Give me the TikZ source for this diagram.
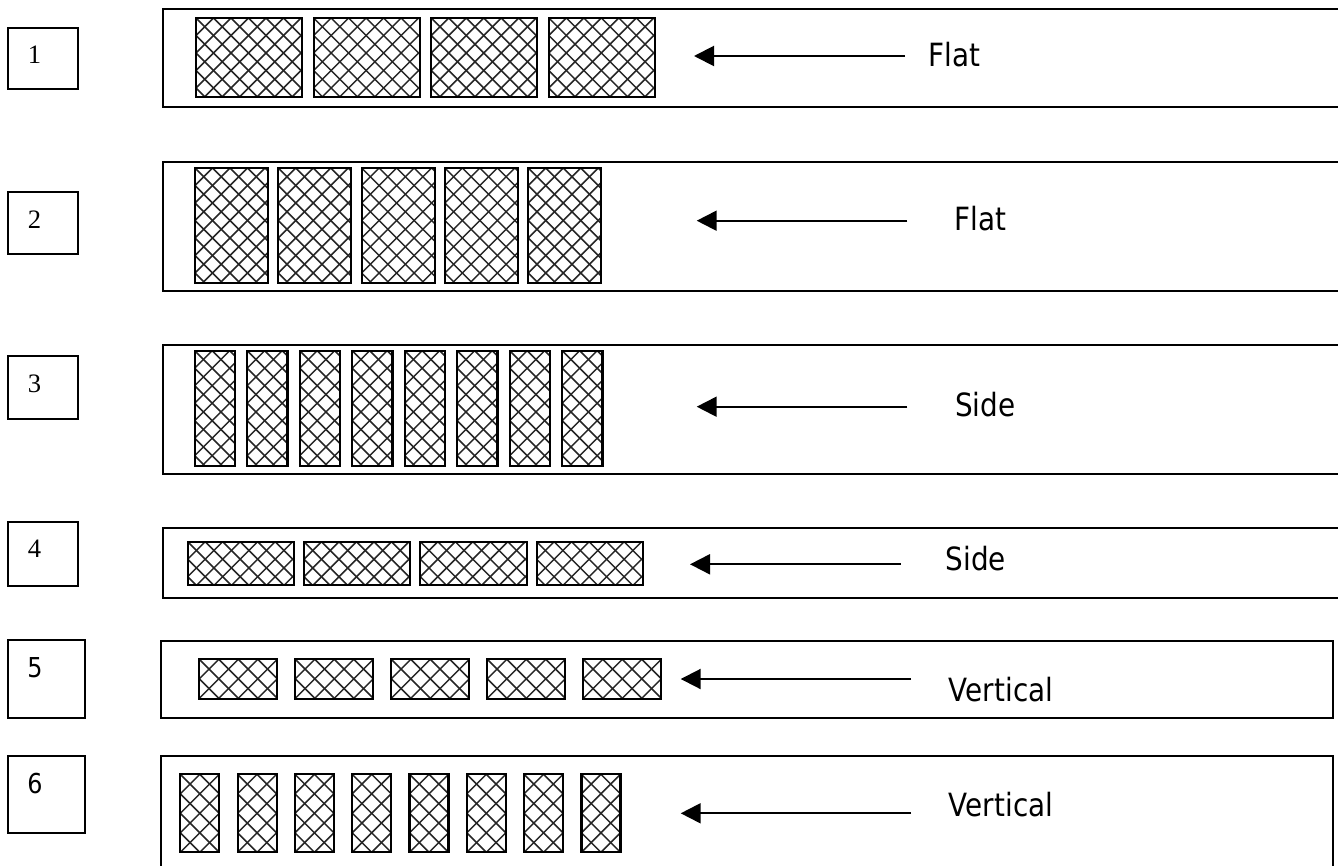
\documentclass[tikz,border=0pt]{standalone}
\usepackage{fontspec}
\setmainfont{Liberation Serif}
\newfontfamily\tah[FakeStretch=0.87]{DejaVu Sans}
\usetikzlibrary{arrows.meta}
\tikzset{
  frame/.style={draw=black, line width=1pt},
  tileline/.style={draw=black, line width=1.1pt},
  hatch/.style={draw=black!85, line width=0.75pt},
  arr/.style={draw=black, line width=1pt, -{Triangle[length=10pt,width=10pt]}},
  serifnum/.style={font=\fontsize{13.3}{15}\selectfont, anchor=base, inner sep=0pt},
  sansnum/.style={font=\tah\fontsize{13.7}{16}\selectfont, anchor=base, inner sep=0pt},
  lab/.style={font=\tah\fontsize{16}{18}\selectfont, anchor=base west, inner sep=0pt}
}
\newcommand\hatchtile[5]{%
  \begin{scope}
    \clip (#1,#2) rectangle ++(#3,#4);
    \foreach \k in {-8,...,16}{%
      \pgfmathsetmacro\sx{#1+\k*#5}%
      \draw[hatch] (\sx,#2) -- ++(#4,#4);
      \draw[hatch] (\sx,#2) -- ++(-#4,#4);
    }
  \end{scope}
  \draw[tileline] (#1,#2) rectangle ++(#3,#4);
}
\begin{document}
\begin{tikzpicture}[x=0.5pt,y=-0.5pt]
\useasboundingbox (0,0) rectangle (1338,866);
\fill[white] (0,0) rectangle (1338,866);

% number boxes
\draw[frame] (7.7,27.7) rectangle (78,89);
\node[serifnum] (n1) at (34.5,63.3) {1};
\draw[frame] (7.7,192) rectangle (78,254);
\node[serifnum] (n2) at (34.5,228.3) {2};
\draw[frame] (7.7,356) rectangle (78,419);
\node[serifnum] (n3) at (34.5,392.7) {3};
\draw[frame] (7.7,521.7) rectangle (78,586);
\node[serifnum] (n4) at (34.5,557.3) {4};
\draw[frame] (7.7,640) rectangle (85,717.7);
\node[sansnum] (n5) at (35,677.3) {5};
\draw[frame] (7.7,755.7) rectangle (85,832.7);
\node[sansnum] (n6) at (35,793.3) {6};

% strips
\draw[frame] (1345,9.3) -- (163,9.3) -- (163,107) -- (1345,107);
\draw[frame] (1345,162) -- (163,162) -- (163,291) -- (1345,291);
\draw[frame] (1345,345) -- (162.7,345) -- (162.7,474) -- (1345,474);
\draw[frame] (1345,528.3) -- (163,528.3) -- (163,598) -- (1345,598);
\draw[frame] (161.3,640.7) rectangle (1332.7,717.5);
\draw[frame] (161.3,870) -- (161.3,755.7) -- (1332.7,755.7) -- (1332.7,870);

% tiles
\foreach \i in {0,...,3}{\pgfmathsetmacro\tx{196+\i*117.6}\hatchtile{\tx}{18}{106}{79}{17.5}}
\foreach \i in {0,...,4}{\pgfmathsetmacro\tx{195+\i*83.3}\hatchtile{\tx}{168}{73}{115}{17.5}}
\foreach \i in {0,...,7}{\pgfmathsetmacro\tx{194.7+\i*52.5}\hatchtile{\tx}{350.7}{40.3}{115.3}{17.5}}
\foreach \i in {0,...,3}{\pgfmathsetmacro\tx{187.7+\i*116.3}\hatchtile{\tx}{541.7}{106.3}{43.3}{17.5}}
\foreach \i in {0,...,4}{\pgfmathsetmacro\tx{199.3+\i*96}\hatchtile{\tx}{659.3}{77.7}{39.4}{19.5}}
\foreach \i in {0,...,7}{\pgfmathsetmacro\tx{180.3+\i*57.3}\hatchtile{\tx}{774.3}{39}{78}{19.5}}

% arrows and labels
\coordinate (t1) at (694,56);     \coordinate (s1) at (905,56);
\coordinate (t2) at (696.7,220.7); \coordinate (s2) at (907.3,220.7);
\coordinate (t3) at (696.7,406.7); \coordinate (s3) at (907.3,406.7);
\coordinate (t4) at (690,564.3);   \coordinate (s4) at (900.7,564.3);
\coordinate (t5) at (680.7,679);   \coordinate (s5) at (911,679);
\coordinate (t6) at (680.7,813.3); \coordinate (s6) at (911,813.3);
\foreach \r in {1,...,6}{\draw[arr] (s\r) -- (t\r);}

\node[lab] (l1) at (928,66.7) {Flat};
\node[lab] (l2) at (954.5,231) {Flat};
\node[lab] (l3) at (954.7,416) {Side};
\node[lab] (l4) at (945.3,570.7) {Side};
\node[lab] (l5) at (948.5,701) {Vertical};
\node[lab] (l6) at (948.5,816) {Vertical};
\end{tikzpicture}
\end{document}
